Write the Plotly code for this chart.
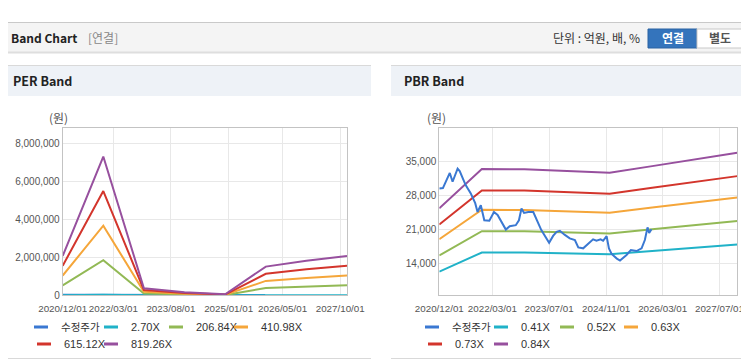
import plotly.graph_objects as go

# The page body adds an 8px margin, so the figure is drawn 8px in from the
# window's top-left; every reference pixel position is mapped through X()/Y().
OFF = 8
W, H = 741, 356

# ---------------- data ----------------
band_dates = ["2020-12-01", "2021-12-01", "2022-12-01", "2023-12-01",
              "2024-12-01", "2025-12-01", "2026-12-01", "2027-12-01"]

price_dates = ["2020-12-01", "2021-01-01", "2021-03-01", "2021-03-25", "2021-05-07", "2021-05-25",
               "2021-07-15", "2021-08-28", "2021-10-05", "2021-10-25", "2021-11-22", "2021-12-22",
               "2022-02-03", "2022-03-15", "2022-04-15", "2022-05-20", "2022-06-25", "2022-07-28",
               "2022-09-18", "2022-10-15", "2022-11-06", "2022-11-28", "2023-01-03", "2023-02-15",
               "2023-03-13", "2023-04-25", "2023-07-01", "2023-08-04", "2023-09-03", "2023-10-01",
               "2023-11-13", "2023-12-25", "2024-02-07", "2024-03-07", "2024-04-18", "2024-06-01",
               "2024-07-12", "2024-08-10", "2024-09-15", "2024-10-06", "2024-11-05", "2024-11-25",
               "2024-12-18", "2025-02-01", "2025-02-28", "2025-04-25", "2025-06-01", "2025-07-20",
               "2025-09-01", "2025-09-29", "2025-10-22", "2025-11-05", "2025-11-25"]
price = [29400, 29500, 32600, 30800, 33500, 33000,
         30100, 28400, 26400, 24600, 26000, 22900,
         22800, 24600, 24000, 22400, 21000, 21700,
         21900, 22900, 25300, 24400, 24600, 24600,
         23300, 20900, 18300, 19700, 20550, 20750,
         19900, 19200, 18850, 17350, 17150, 18200,
         19000, 18700, 19000, 18700, 19650, 17150,
         16000, 15050, 14650, 15800, 16800, 16600,
         17150, 18850, 21450, 20300, 21050]

# PER band values (원)
per_2_70 = [6800, 24000, 1200, 500, 200, 5000, 6000, 6800]
per_206_84 = [523000, 1843000, 93000, 40000, 13000, 381000, 460000, 523000]
per_410_98 = [1038000, 3662000, 186000, 80000, 25000, 757000, 913000, 1038000]
per_615_12 = [1554000, 5481000, 278000, 120000, 38000, 1134000, 1366000, 1554000]
per_819_26 = [2070000, 7300000, 370000, 160000, 50000, 1510000, 1820000, 2070000]

# PBR band values (원)
pbr_0_41 = [12370, 16300, 16280, 16130, 15920, 16600, 17250, 17940]
pbr_0_52 = [15690, 20680, 20640, 20460, 20190, 21050, 21880, 22760]
pbr_0_63 = [19010, 25050, 25010, 24790, 24460, 25500, 26510, 27570]
pbr_0_73 = [22020, 29030, 28980, 28720, 28350, 29550, 30720, 31950]
pbr_0_84 = [25340, 33400, 33350, 33050, 32620, 34000, 35350, 36760]

price_name = "수정주가"
per_names = ["2.70X", "206.84X", "410.98X", "615.12X", "819.26X"]
pbr_names = ["0.41X", "0.52X", "0.63X", "0.73X", "0.84X"]

per_ticks = ["2020-12-01", "2022-03-01", "2023-08-01", "2025-01-01", "2026-05-01", "2027-10-01"]
pbr_ticks = ["2020-12-01", "2022-03-01", "2023-07-01", "2024-11-01", "2026-03-01", "2027-07-01"]
per_yticks = [0, 2000000, 4000000, 6000000, 8000000]
pbr_yticks = [14000, 21000, 28000, 35000]

# ---------------- style ----------------
c_price = "#3a78d2"
band_colors = ["#20b2c8", "#92b955", "#f5a63a", "#d3352c", "#97509e"]
NUM = "Liberation Sans, Arial, sans-serif"
KR = "Noto Sans CJK KR, sans-serif"


def X(px):
    return (px - OFF) / W


def Y(py):
    return 1 - (py - OFF) / H


fig = go.Figure()

per_series = [per_2_70, per_206_84, per_410_98, per_615_12, per_819_26]
pbr_series = [pbr_0_41, pbr_0_52, pbr_0_63, pbr_0_73, pbr_0_84]

# PER chart
fig.add_trace(go.Scatter(x=price_dates, y=price, mode="lines", line=dict(color=c_price, width=2),
                         name=price_name, showlegend=False, xaxis="x", yaxis="y"))
for nm, vals, col in zip(per_names, per_series, band_colors):
    fig.add_trace(go.Scatter(x=band_dates, y=vals, mode="lines", line=dict(color=col, width=2),
                             name=nm, showlegend=False, xaxis="x", yaxis="y"))
# PBR chart
for nm, vals, col in zip(pbr_names, pbr_series, band_colors):
    fig.add_trace(go.Scatter(x=band_dates, y=vals, mode="lines", line=dict(color=col, width=2),
                             name=nm, showlegend=False, xaxis="x2", yaxis="y2"))
fig.add_trace(go.Scatter(x=price_dates, y=price, mode="lines", line=dict(color=c_price, width=2),
                         name=price_name, showlegend=False, xaxis="x2", yaxis="y2"))

# legend entries: one legend per entry so each sits where the original puts it
per_leg_names = [price_name] + per_names
pbr_leg_names = [price_name] + pbr_names
leg_colors = [c_price] + band_colors
per_text_x = [61, 131, 196, 261, 64, 131]
pbr_text_x = [452, 521, 587, 651, 455, 521]
row_y = [327, 327, 327, 327, 344, 344]

legends = {}
k = 0
for names, txs in [(per_leg_names, per_text_x), (pbr_leg_names, pbr_text_x)]:
    for i, (nm, col) in enumerate(zip(names, leg_colors)):
        k += 1
        lid = "legend" if k == 1 else "legend%d" % k
        fig.add_trace(go.Scatter(x=[None], y=[None], mode="markers", name=nm,
                                 marker=dict(symbol="line-ew", size=10, line=dict(color=col, width=3)),
                                 legend=lid, xaxis="x", yaxis="y"))
        is_kr = (nm == price_name)
        legends[lid] = dict(orientation="h", xanchor="left", yanchor="middle",
                            x=X(txs[i] - 40), y=Y(row_y[i]),
                            bgcolor="rgba(0,0,0,0)", borderwidth=0,
                            itemclick=False, itemdoubleclick=False,
                            font=dict(family=KR if is_kr else NUM, size=10.5 if is_kr else 11,
                                      color="#333"))

axis_common = dict(showline=True, mirror=True, linecolor="#c3c3c3", linewidth=1,
                   showgrid=True, gridcolor="#e8e8e8", gridwidth=1, zeroline=False, ticks="",
                   automargin=False)
xfont = dict(family=NUM, size=9.8, color="#555")
yfont = dict(family=NUM, size=10, color="#555")

fig.update_layout(
    width=W, height=H, margin=dict(l=0, r=0, t=0, b=0, autoexpand=False),
    paper_bgcolor="white", plot_bgcolor="white",
    xaxis=dict(domain=[X(62.7), X(347)], type="date", range=["2020-12-01", "2027-12-01"],
               tickvals=per_ticks, tickformat="%Y/%m/%d", tickangle=0, anchor="y",
               ticklabelstandoff=4, tickfont=xfont, **axis_common),
    yaxis=dict(domain=[Y(295.3), Y(128)], range=[0, 8800000], tickvals=per_yticks,
               tickformat=",d", anchor="x", tickfont=yfont, **axis_common),
    xaxis2=dict(domain=[X(439.3), X(737.3)], type="date", range=["2020-12-01", "2027-12-01"],
                tickvals=pbr_ticks, tickformat="%Y/%m/%d", tickangle=0, anchor="y2",
                ticklabelstandoff=4, tickfont=xfont, **axis_common),
    yaxis2=dict(domain=[Y(295.3), Y(128.3)], range=[7530, 41750], tickvals=pbr_yticks,
                tickformat=",d", anchor="x2", tickfont=yfont, **axis_common),
    showlegend=True,
    **legends,
)

shapes = []
def rect(x0, y0, x1, y1, fill, line=None, lw=1):
    shapes.append(dict(type="rect", xref="paper", yref="paper", x0=X(x0), x1=X(x1), y0=Y(y1), y1=Y(y0),
                       fillcolor=fill, line=dict(width=lw if line else 0, color=line or fill), layer="below"))

def hline(x0, x1, y, col, lw=1):
    shapes.append(dict(type="line", xref="paper", yref="paper", x0=X(x0), x1=X(x1), y0=Y(y), y1=Y(y),
                       line=dict(color=col, width=lw), layer="below"))

# top bar
rect(0, 22, 749, 52, "#f4f4f4")
hline(0, 749, 22.5, "#c9c9c9")
hline(0, 749, 52.5, "#dedede", 2)
# buttons
rect(648, 29, 697, 48, "#3474bc", "#2b62a2")
rect(697, 29, 743, 48, "#ffffff", "#c8c8c8")
# panel headers
for a, b in [(0, 371), (391, 749)]:
    rect(a, 65, b, 96, "#eef2f7")
    hline(a, b, 65.5, "#d9d9d9")
    hline(a, b, 358.5, "#d9d9d9")

annotations = []
def text(x, y, s, size=12, color="#333", family=KR, xanchor="left", bold=False):
    annotations.append(dict(xref="paper", yref="paper", x=X(x), y=Y(y), text=("<b>%s</b>" % s) if bold else s,
                            showarrow=False, xanchor=xanchor, yanchor="middle",
                            font=dict(family=family, size=size, color=color)))

text(9, 38, "Band Chart", 12, "#222", bold=True)
text(86, 38, "[연결]", 12, "#888")
text(642, 38, "단위 : 억원, 배, %", 12, "#333", xanchor="right")
text(672.5, 38, "연결", 12, "#ffffff", xanchor="center", bold=True)
text(720, 38, "별도", 12, "#555", xanchor="center", bold=True)
text(11, 80, "PER Band", 12.5, "#222", bold=True)
text(402, 80, "PBR Band", 12.5, "#222", bold=True)
text(58, 117, "(원)", 12, "#555", xanchor="center")
text(436, 117, "(원)", 12, "#555", xanchor="center")

fig.update_layout(shapes=shapes, annotations=annotations)

fig.write_html("out.html")
